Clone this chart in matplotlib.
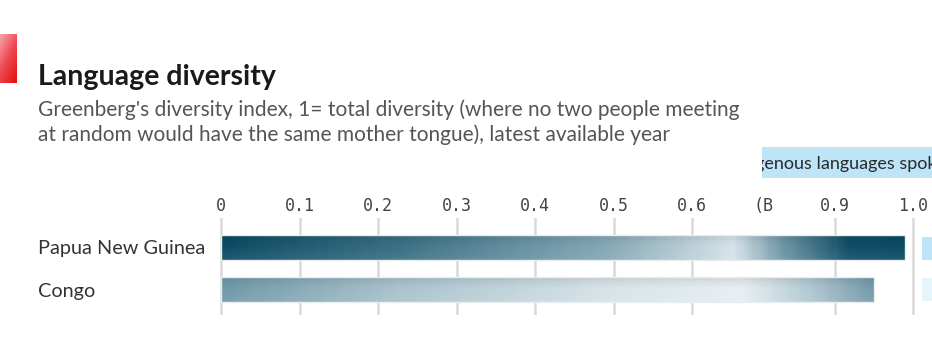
import numpy as np
import matplotlib
matplotlib.use("Agg")
import matplotlib.pyplot as plt
from matplotlib.colors import LinearSegmentedColormap

# data
countries = ["Papua New Guinea", "Congo"]
diversity = [0.99, 0.95]
tick_values = [0, 0.1, 0.2, 0.3, 0.4, 0.5, 0.6, 0.9, 1.0]
tick_labels = ["0", "0.1", "0.2", "0.3", "0.4", "0.5", "0.6", "0.9", "1.0"]
odd_tick_value = [0.75]
odd_tick_label = ["(B"]

# the printed axis is squeezed between 0.6 and 0.9
scale_in = [-0.1, 0, 0.6, 0.9, 1.0, 1.1]
scale_out = [-78.5, 0, 471, 614, 692, 770.5]
def fwd(x):
    return np.interp(x, scale_in, scale_out)
def inv(x):
    return np.interp(x, scale_out, scale_in)

# gradient stops along each bar (fraction of bar length -> colour)
bar_stops = [
    [(0.0, "#0b4a62"), (0.26, "#3a6f83"), (0.57, "#86a8b6"), (0.75, "#d6e3e8"),
     (0.82, "#7097a7"), (0.92, "#0e4d65"), (1.0, "#0b4a62")],
    [(0.0, "#6f98a8"), (0.27, "#a9c2cc"), (0.6, "#d7e3e8"), (0.8, "#e7eef1"),
     (0.9, "#b3c9d2"), (1.0, "#7399a9")],
]

W, H = 932, 346
fig = plt.figure(figsize=(W / 100, H / 100), dpi=100)
fig.patch.set_facecolor("white")
plt.rcParams["font.family"] = ["Lato", "DejaVu Sans"]

# red tag
tag = fig.add_axes([0, 1 - 83 / H, 17 / W, 49 / H])
gx, gy = np.meshgrid(np.linspace(0, 1, 20), np.linspace(0, 1, 50))
tag_cmap = LinearSegmentedColormap.from_list("tag", ["#f6a3aa", "#ee4650", "#e3120b"])
tag.imshow(gx * 0.4 + gy * 0.6, cmap=tag_cmap, aspect="auto", extent=[0, 1, 1, 0])
tag.axis("off")

fig.text(38 / W, 1 - 85 / H, "Language diversity", fontsize=20.5, fontweight="bold",
         color="#1a1a1a", va="baseline")
fig.text(38 / W, 1 - 116 / H,
         "Greenberg's diversity index, 1= total diversity (where no two people meeting",
         fontsize=15, color="#555555", va="baseline")
fig.text(38 / W, 1 - 141 / H,
         "at random would have the same mother tongue), latest available year",
         fontsize=15, color="#555555", va="baseline")

# neighbouring panel header, cut off on both sides
hdr = fig.add_axes([762 / W, 1 - 178 / H, (W - 762) / W, 31 / H])
hdr.set_facecolor("#bde5f7")
for s in hdr.spines.values():
    s.set_visible(False)
hdr.set_xticks([])
hdr.set_yticks([])
fig.canvas.draw()
r = fig.canvas.get_renderer()
probe = fig.text(0, 0, "Number of indig", fontsize=13)
pw = probe.get_window_extent(r).width
probe.remove()
hdr.text((2 - pw) / (W - 762), 0.45, "Number of indigenous languages spoken",
         fontsize=13, color="#2a2a2a", va="center", ha="left",
         transform=hdr.transAxes, clip_on=True)

# main chart
lo, hi = -0.004, 1.006
span = fwd(hi) - fwd(lo)
ax = fig.add_axes([(221 + fwd(lo)) / W, 1 - 315 / H, span / W, 97 / H])
ax.set_xscale("function", functions=(fwd, inv))
ax.set_xlim(lo, hi)
ypos = np.arange(len(countries))
ax.set_ylim(1.59, -0.694)
bh = 0.59

bars = ax.barh(ypos, diversity, height=bh, color="none", edgecolor="none", zorder=2)
for i, (b, val) in enumerate(zip(bars, diversity)):
    n = 300
    xe = inv(np.linspace(0, fwd(val), n + 1))
    ye = np.linspace(ypos[i] - bh / 2, ypos[i] + bh / 2, 11)
    cmap = LinearSegmentedColormap.from_list("bar%d" % i, bar_stops[i])
    t = (np.arange(n) + 0.5) / n
    rows = np.linspace(-0.04, 0.06, 10)[:, None]
    rgb = cmap(np.tile(t, (10, 1)))[..., :3]
    rgb = rgb + (1 - rgb) * np.clip(rows, 0, None)[..., None] * 1.2
    rgb = rgb * (1 - np.clip(-rows, 0, None)[..., None] * 2)
    ax.pcolormesh(xe, ye, np.clip(rgb, 0, 1), shading="flat", zorder=2)
    ax.add_patch(plt.Rectangle((0, ypos[i] - bh / 2), val, bh, fill=False,
                               edgecolor="#e8eef0", lw=1.0, zorder=3))

ax.xaxis.tick_top()
ax.set_xticks(tick_values)
ax.set_xticklabels(tick_labels)
ax.set_xticks(odd_tick_value, minor=True)
ax.set_xticklabels(odd_tick_label, minor=True)
ax.tick_params(axis="x", which="both", length=0, pad=2, labelsize=12,
               labelcolor="#444444")
for lab in ax.get_xticklabels(which="both"):
    lab.set_fontfamily(["DejaVu Sans Mono"])
ax.grid(axis="x", which="major", color="#d9d9d9", lw=1.8, zorder=0)
ax.set_axisbelow(True)

ax.set_yticks(ypos)
ax.set_yticklabels(countries)
ax.tick_params(axis="y", length=0, pad=(221 + fwd(lo) - 38) * 0.72, labelsize=14.3,
               labelcolor="#333333")
for lab in ax.get_yticklabels():
    lab.set_ha("left")
for s in ax.spines.values():
    s.set_visible(False)

# neighbouring panel boxes, cut off by the edge
for y0, col in zip([237, 278], ["#bde5f7", "#e6f5fc"]):
    fig.add_artist(plt.Rectangle((922 / W, 1 - (y0 + 23) / H), 12 / W, 23 / H,
                                 transform=fig.transFigure, fc=col, ec="none"))

fig.savefig("out.png", dpi=100, facecolor="white")
